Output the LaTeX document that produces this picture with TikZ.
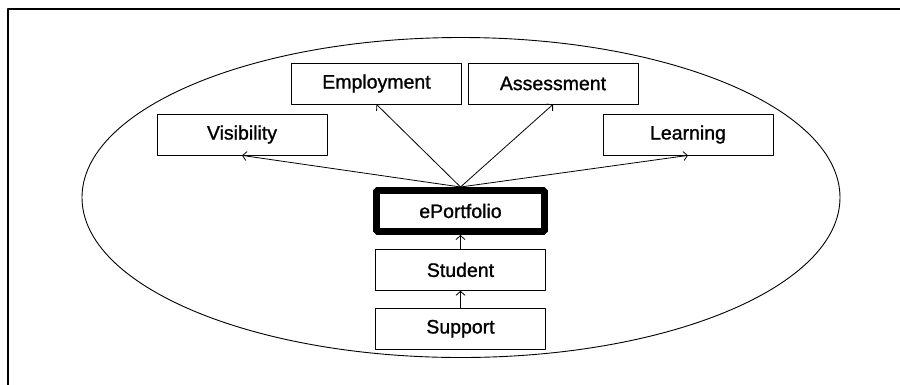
\documentclass[tikz,border=0pt]{standalone}
\usepackage{fontspec}
\setmainfont{Liberation Sans}
\newfontfamily\boxfont[FakeBold=1.2]{Liberation Sans}
\usepackage{tikz}
\usetikzlibrary{arrows.meta, positioning, shapes}

\begin{document}
\begin{tikzpicture}[x=1pt, y=-1pt, >={Straight Barb[length=4pt,width=9pt]}, line join=bevel,
        box/.style={draw, rectangle, line width=.8pt, minimum width=170pt, minimum height=41pt,
                    inner sep=0pt, font=\boxfont\fontsize{19.5}{22}\selectfont},
        core/.style={box, line width=7pt, minimum width=168pt},
        link/.style={->, line width=.8pt}]
        \useasboundingbox (0,0) rectangle (900,384);
        % frame and ellipse
        \draw[line width=1.2pt] (8,390) -- (8,9) -- (906,9);
        \draw[line width=.9pt] (461,197.5) ellipse [x radius=379pt, y radius=160pt];
        % nodes
        \node[core] (port) at (460.5,211) {ePortfolio};
        \node[box, below=14pt of port] (stud) {Student};
        \node[box, below=17pt of stud] (supp) {Support};
        \node[box] (vis) at (242,134.5) {Visibility};
        \node[box] (emp) at (376.5,83.5) {Employment};
        \node[box] (ass) at (553,83.5) {Assessment};
        \node[box] (lea) at (688,134.5) {Learning};
        % connectors
        \foreach \t in {vis, emp, ass, lea}
          \draw[link] (port.north) -- (\t.south);
        \draw[link] (stud) -- (port);
        \draw[link] (supp) -- (stud);
\end{tikzpicture}
\end{document}
